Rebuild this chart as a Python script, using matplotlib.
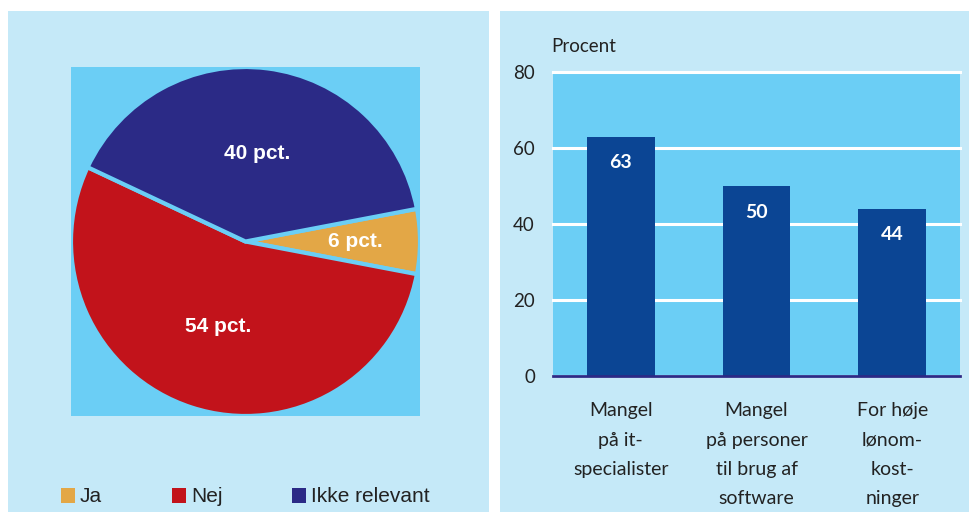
import matplotlib.pyplot as plt
from matplotlib.patches import Rectangle, Patch
import numpy as np

# pie data (share of firms, pct.)
pie_labels = ["Ja", "Nej", "Ikke relevant"]
pie_values = [6, 54, 40]
pie_colors = ["#E3A746", "#C2131B", "#2B2A86"]

# bar data (pct.)
bar_cats = ["Mangel\npå it-\nspecialister",
            "Mangel\npå personer\ntil brug af\nsoftware",
            "For høje\nlønom-\nkost-\nninger"]
bar_values = [63, 50, 44]
y_ticks = [0, 20, 40, 60, 80]

PANEL = "#C5E9F8"
INNER = "#6BCEF5"
BAR = "#0B4594"
NAVY = "#2B2A86"
TXT = "#222222"

W, H = 969, 512
fig = plt.figure(figsize=(W / 100, H / 100), dpi=100, facecolor="white")

def fx(px):
    return px / W

def fy(py):
    return 1 - py / H

# panel backgrounds
fig.patches.append(Rectangle((fx(8), 0), fx(489) - fx(8), fy(11), transform=fig.transFigure,
                             facecolor=PANEL, edgecolor="none", zorder=-10))
fig.patches.append(Rectangle((fx(500), 0), 1 - fx(500), fy(11), transform=fig.transFigure,
                             facecolor=PANEL, edgecolor="none", zorder=-10))
fig.patches.append(Rectangle((fx(71), fy(416)), fx(349), 349 / H, transform=fig.transFigure,
                             facecolor=INNER, edgecolor="none", zorder=-5))

# ---- pie ----
ax1 = fig.add_axes([fx(71), fy(416), fx(349), 349 / H])
ax1.set_axis_off()
wedges, _ = ax1.pie(pie_values, colors=pie_colors, startangle=10.8, counterclock=False,
                    radius=1.0, wedgeprops=dict(edgecolor=INNER, linewidth=3))
ax1.set_xlim(-1, 1)
ax1.set_ylim(-1, 1)
ax1.set_aspect("equal")
for w in wedges:
    w.set_clip_on(True)

label_r = [0.63, 0.51, 0.51]
for w, v, r in zip(wedges, pie_values, label_r):
    ang = np.deg2rad((w.theta1 + w.theta2) / 2)
    ax1.text(r * np.cos(ang), r * np.sin(ang), f"{v} pct.", ha="center", va="center",
             color="white", fontsize=15, fontweight="bold", family="Liberation Sans")

handles = [Patch(facecolor=c, edgecolor="none") for c in pie_colors]
fig.legend(handles, pie_labels, loc="center left", bbox_to_anchor=(fx(61), fy(497)),
           ncol=3, frameon=False, borderpad=0, borderaxespad=0,
           handlelength=0.67, handleheight=0.7, handletextpad=0.24, columnspacing=3.35,
           prop=dict(family="Liberation Sans", size=15), labelcolor=TXT)

# ---- bars ----
ax2 = fig.add_axes([fx(553), fy(376), fx(960) - fx(553), (376 - 72) / H])
ax2.set_facecolor(INNER)
x = np.arange(len(bar_values))
ax2.bar(x, bar_values, width=0.5, color=BAR, zorder=3)
ax2.set_xlim(-0.5, 2.5)
ax2.set_ylim(0, 80)
ax2.set_yticks(y_ticks)
ax2.set_yticklabels([str(t) for t in y_ticks], family="Lato", fontsize=13.5, color=TXT)
ax2.set_xticks(x)
ax2.set_xticklabels(bar_cats, family="Lato", fontsize=14, color=TXT, linespacing=1.88, va="top")
ax2.tick_params(axis="y", length=0, pad=13)
ax2.tick_params(axis="x", length=0, pad=19)
ax2.grid(axis="y", color="white", linewidth=2.2, zorder=1)
for gl in ax2.get_ygridlines():
    gl.set_clip_on(False)
ax2.set_axisbelow(True)
for s in ["top", "right", "left"]:
    ax2.spines[s].set_visible(False)
ax2.spines["bottom"].set_color(NAVY)
ax2.spines["bottom"].set_linewidth(2)
ax2.spines["bottom"].set_zorder(4)

for xi, v in zip(x, bar_values):
    ax2.annotate(str(v), (xi, v), xytext=(0, -26), textcoords="offset pixels",
                 ha="center", va="center", color="white", fontsize=14, fontweight="bold",
                 family="Lato", zorder=5)

fig.text(fx(551), fy(46), "Procent", ha="left", va="center", family="Lato", fontsize=13.5, color=TXT)

fig.savefig("out.png", dpi=100, facecolor="white")
